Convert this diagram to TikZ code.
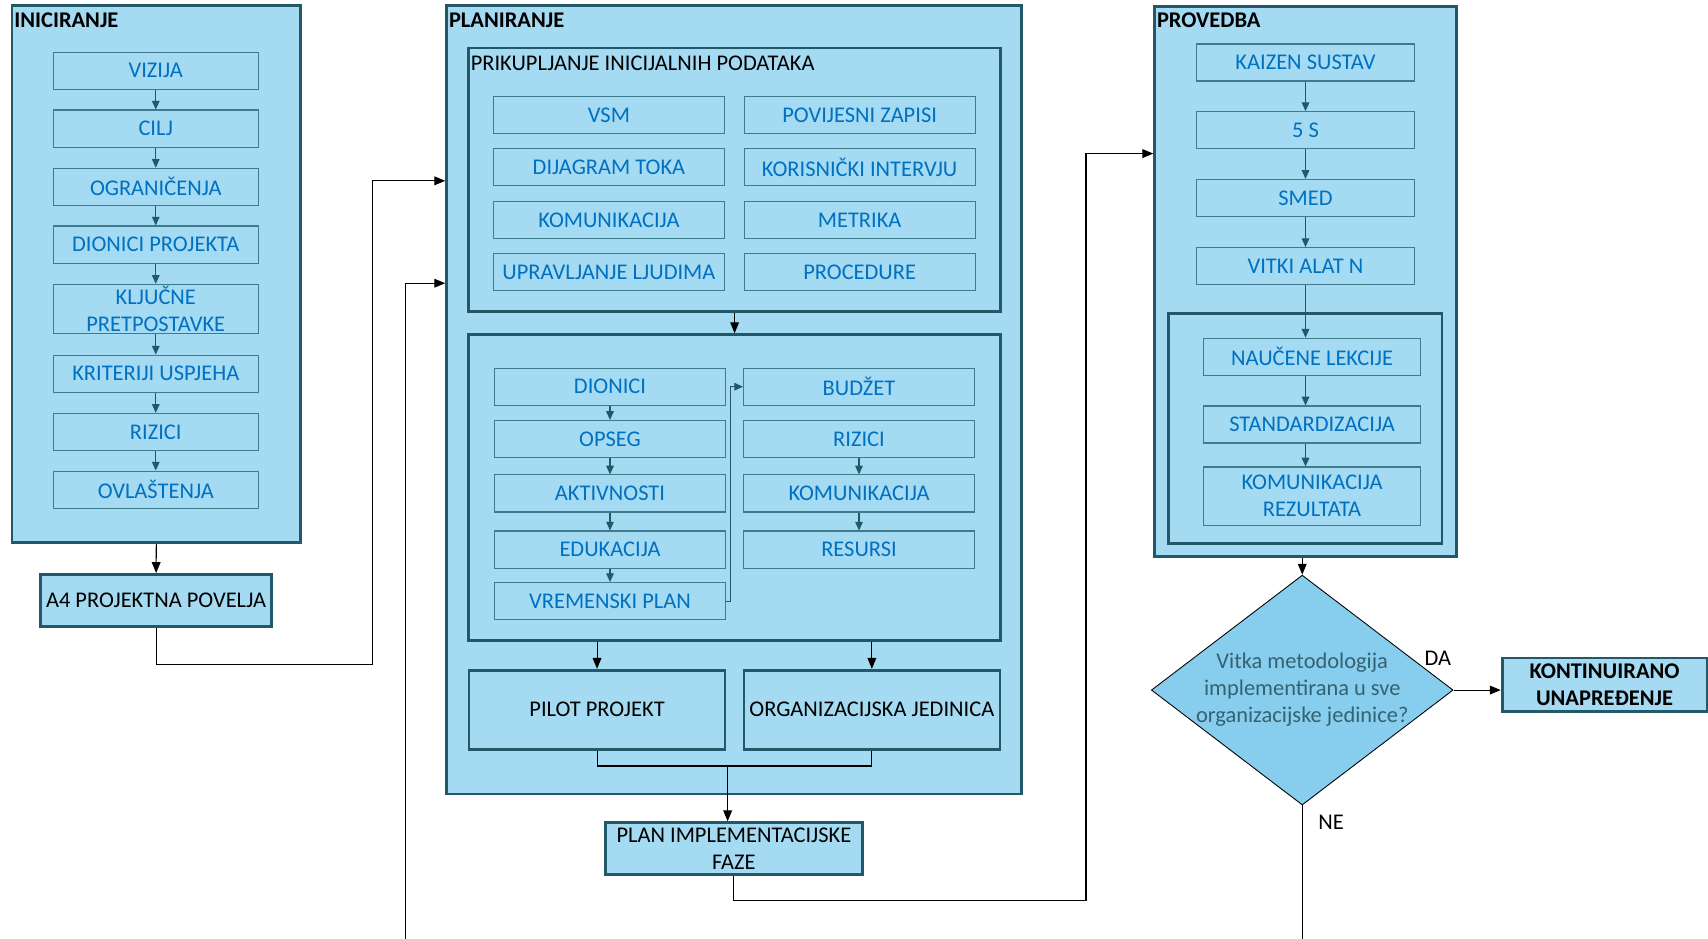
\documentclass[tikz,border=0pt]{standalone}
\usepackage{fontspec}
\setmainfont{Carlito}
\usepackage{tikz}
\usetikzlibrary{arrows.meta,shapes.geometric}
\definecolor{skyfill}{RGB}{164,218,242}
\definecolor{decfill}{RGB}{135,206,238}
\definecolor{darkteal}{RGB}{34,88,104}
\definecolor{itemline}{RGB}{62,124,140}
\definecolor{itemblue}{RGB}{0,112,192}
\definecolor{dectext}{RGB}{52,98,112}

\begin{document}
\begin{tikzpicture}[x=1pt, y=-1pt, >={Triangle[length=10pt,width=8pt]},
    font=\fontsize{20.6}{24.8}\selectfont,
    group/.style={draw=darkteal,line width=2.5pt,fill=skyfill,inner sep=0pt},
    frame/.style={draw=darkteal,line width=2.5pt,inner sep=0pt},
    grouptitle/.style={anchor=west,inner sep=0pt,font=\fontsize{20.6}{24.8}\selectfont\bfseries},
    item/.style={draw=itemline,line width=1pt,fill=skyfill,text=itemblue,align=center,inner sep=0pt,minimum height=34pt},
    result/.style={draw=darkteal,line width=2.5pt,fill=skyfill,align=center,inner sep=0pt},
    decision/.style={diamond,draw=black,line width=0.8pt,fill=decfill,inner sep=0pt},
    conn/.style={->,line width=1pt},
    flow/.style={-{Triangle[length=8pt,width=7pt]},draw=darkteal,line width=1pt}]

    \useasboundingbox (0,0) rectangle (1568,862);

    % INICIRANJE
    \node[group,minimum width=265pt,minimum height=493pt] (inic) at (143.5,251.5) {};
    \node[grouptitle] (inictitle) at (13,19) {INICIRANJE};
    \node[item,minimum width=188pt] (vizija) at (143,65) {VIZIJA};
    \node[item,minimum width=188pt] (cilj) at (143,118) {CILJ};
    \node[item,minimum width=188pt] (ogran) at (143,171.5) {OGRANIČENJA};
    \node[item,minimum width=188pt] (dionprj) at (143,224.5) {DIONICI PROJEKTA};
    \node[item,minimum width=188pt,minimum height=45pt] (kljuc) at (143,283.5) {KLJUČNE\\PRETPOSTAVKE};
    \node[item,minimum width=188pt] (krit) at (143,343) {KRITERIJI USPJEHA};
    \node[item,minimum width=188pt] (rizik) at (143,396.5) {RIZICI};
    \node[item,minimum width=188pt] (ovlast) at (143,449.5) {OVLAŠTENJA};
    \node[result,minimum width=212pt,minimum height=48pt] (povelja) at (143.3,551.3) {A4 PROJEKTNA POVELJA};

    \draw[flow] (vizija) -- (cilj);
    \draw[flow] (cilj) -- (ogran);
    \draw[flow] (ogran) -- (dionprj);
    \draw[flow] (dionprj) -- (kljuc);
    \draw[flow] (kljuc) -- (krit);
    \draw[flow] (krit) -- (rizik);
    \draw[flow] (rizik) -- (ovlast);
    \draw[conn] (inic.south) -- (povelja.north);

    % PLANIRANJE
    \node[group,minimum width=528pt,minimum height=724pt] (plan) at (674,367) {};
    \node[grouptitle] (plantitle) at (412,19) {PLANIRANJE};
    \node[frame,minimum width=488pt,minimum height=242pt] (prikup) at (674.4,165) {};
    \node[anchor=west,inner sep=0pt] (prikuptitle) at (432,58) {PRIKUPLJANJE INICIJALNIH PODATAKA};
    \node[item,minimum width=212pt] (vsm) at (559,105.6) {VSM};
    \node[item,minimum width=212pt] (dijagram) at (559,153.6) {DIJAGRAM TOKA};
    \node[item,minimum width=212pt] (komunik) at (559,201.8) {KOMUNIKACIJA};
    \node[item,minimum width=212pt] (upravlj) at (559,249.8) {UPRAVLJANJE LJUDIMA};
    \node[item,minimum width=212pt] (povijest) at (789.2,105.6) {POVIJESNI ZAPISI};
    \node[item,minimum width=212pt] (intervju) at (789.2,153.6) {KORISNIČKI INTERVJU};
    \node[item,minimum width=212pt] (metrika) at (789.2,201.8) {METRIKA};
    \node[item,minimum width=212pt] (procedure) at (789.2,249.8) {PROCEDURE};

    \node[frame,minimum width=488pt,minimum height=281pt] (planfr) at (674.4,447.6) {};
    \node[item,minimum width=212pt] (dionici) at (560,355) {DIONICI};
    \node[item,minimum width=212pt] (opseg) at (560,403) {OPSEG};
    \node[item,minimum width=212pt] (aktiv) at (560,453) {AKTIVNOSTI};
    \node[item,minimum width=212pt] (eduk) at (560,504.5) {EDUKACIJA};
    \node[item,minimum width=212pt] (vremplan) at (560,551.8) {VREMENSKI PLAN};
    \node[item,minimum width=212pt] (budzet) at (788.6,355) {BUDŽET};
    \node[item,minimum width=212pt] (rizici) at (788.6,403) {RIZICI};
    \node[item,minimum width=212pt] (komun) at (788.6,453) {KOMUNIKACIJA};
    \node[item,minimum width=212pt] (resursi) at (788.6,504.5) {RESURSI};

    \node[result,minimum width=235pt,minimum height=72.5pt] (pilot) at (548.1,651.5) {PILOT PROJEKT};
    \node[result,minimum width=235pt,minimum height=72.5pt] (orgjed) at (800.4,651.5) {ORGANIZACIJSKA JEDINICA};
    \node[result,minimum width=235.5pt,minimum height=47.5pt] (implfaza) at (673.75,779) {PLAN IMPLEMENTACIJSKE\\FAZE};

    \draw[conn] (prikup.south) -- (planfr.north);
    \draw[flow] (dionici) -- (opseg);
    \draw[flow] (opseg) -- (aktiv);
    \draw[flow] (aktiv) -- (eduk);
    \draw[flow] (eduk) -- (vremplan);
    \draw[flow] (rizici) -- (komun);
    \draw[flow] (komun) -- (resursi);
    \draw[flow] (vremplan.east) -- ++(4,0) |- (budzet.west);
    \draw[conn] (pilot.north |- planfr.south) -- (pilot.north);
    \draw[conn] (orgjed.north |- planfr.south) -- (orgjed.north);
    \coordinate (merge) at (668,703.2);
    \draw[line width=1pt] (pilot.south) |- (merge) -| (orgjed.south);
    \draw[conn] (merge) -- (merge |- implfaza.north);

    \draw[conn] (povelja.south) |- (342,610) |- (plan.west |- 0,166);
    \coordinate (nepovrat) at (372,862);
    \draw[conn] (nepovrat) |- (plan.west |- 0,260);

    % PROVEDBA
    \node[group,minimum width=277pt,minimum height=505pt] (prov) at (1198.5,258.5) {};
    \node[grouptitle] (provtitle) at (1062,19) {PROVEDBA};
    \node[item,minimum width=200pt] (kaizen) at (1198.5,57.4) {KAIZEN SUSTAV};
    \node[item,minimum width=200pt] (pets) at (1198.5,119.5) {5 S};
    \node[item,minimum width=200pt] (smed) at (1198.5,181.7) {SMED};
    \node[item,minimum width=200pt] (vitki) at (1198.5,244.3) {VITKI ALAT N};
    \node[frame,minimum width=251pt,minimum height=211pt] (provfr) at (1198.4,393.2) {};
    \node[item,minimum width=199pt] (naucene) at (1204.5,327.5) {NAUČENE LEKCIJE};
    \node[item,minimum width=199pt] (standard) at (1204.5,389.7) {STANDARDIZACIJA};
    \node[item,minimum width=199pt,minimum height=53.6pt] (komrez) at (1204.5,455.5) {KOMUNIKACIJA\\REZULTATA};

    \draw[flow] (kaizen) -- (pets);
    \draw[flow] (pets) -- (smed);
    \draw[flow] (smed) -- (vitki);
    \draw[flow] (vitki.south) -- (vitki.south |- naucene.north);
    \draw[flow] (naucene.south -| vitki.south) -- (standard.north -| vitki.south);
    \draw[flow] (standard.south -| vitki.south) -- (komrez.north -| vitki.south);

    \draw[conn] (implfaza.south) |- (997,827) |- (prov.west |- 0,141);

    % odluka
    \node[decision,minimum width=277pt,minimum height=211pt] (odluka) at (1195.5,633.5) {};
    \node[text=dectext,align=center,inner sep=0pt] (odlukatxt) at (odluka.center) {Vitka metodologija\\implementirana u sve\\organizacijske jedinice?};
    \node[result,font=\fontsize{20.6}{24.8}\selectfont\bfseries,minimum width=188pt,minimum height=49.4pt] (kontin) at (1473,628.7) {KONTINUIRANO\\UNAPREĐENJE};
    \node[inner sep=0pt] (da) at (1320,604) {DA};
    \node[inner sep=0pt] (ne) at (1222,755) {NE};

    \draw[conn] (odluka.north |- prov.south) -- (odluka.north);
    \draw[conn] (odluka.east) -- (odluka.east -| kontin.west);
    \coordinate (nekraj) at (1195.5,862);
    \draw[line width=1pt] (odluka.south) -- (nekraj);
\end{tikzpicture}
\end{document}
